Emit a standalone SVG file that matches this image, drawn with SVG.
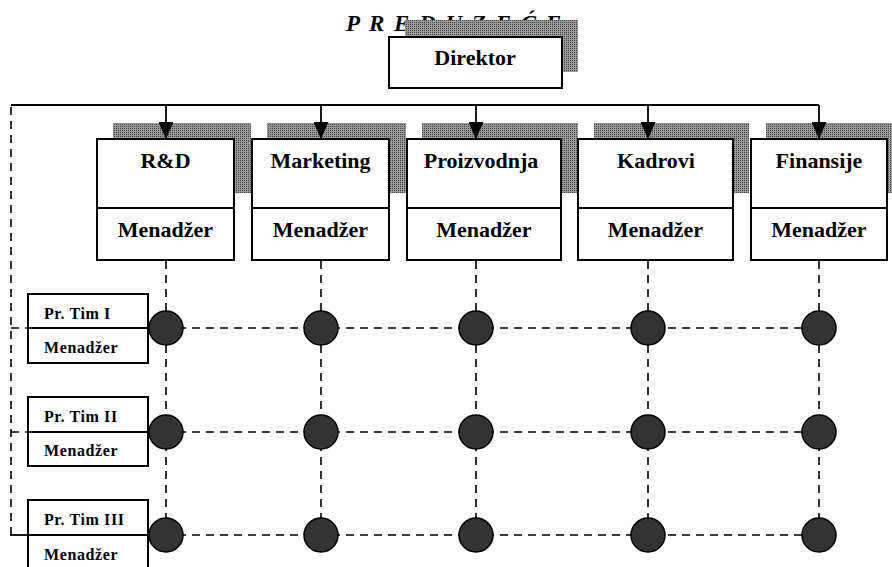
<svg xmlns="http://www.w3.org/2000/svg" width="892" height="567" viewBox="0 0 892 567">
<style>
.box{fill:#fff;stroke:#000;stroke-width:2}
.shadow{fill:url(#stip)}
.t{font-family:"Liberation Serif","Times New Roman",serif;font-weight:bold;fill:#000}
.big{font-size:22px;text-anchor:middle}
.small{font-size:16px;letter-spacing:0.6px}
.solid{stroke:#000;stroke-width:1.8;fill:none}
.dash{stroke:#000;stroke-width:1.6;fill:none;stroke-dasharray:8 6}
.dot{fill:#333;stroke:#000;stroke-width:1.5}
</style>
<defs>
<pattern id="stip" width="2" height="2" patternUnits="userSpaceOnUse">
<rect width="2" height="2" fill="#999"/>
<rect width="1" height="1" fill="#444"/>
</pattern>
<marker id="arr" viewBox="0 0 17 15" refX="17" refY="7.5" markerWidth="17" markerHeight="15" markerUnits="userSpaceOnUse" orient="auto">
<path d="M0,0 L17,7.5 L0,15 Z" fill="#000"/>
</marker>
</defs>
<rect width="892" height="567" fill="#fff"/>

<text class="t" x="346" y="31" font-size="23" font-style="italic" letter-spacing="2">P R E D U Z E Ć E</text>

<g id="direktor">
<rect class="shadow" x="405" y="20" width="173" height="52"/>
<rect class="box" x="389" y="37" width="173" height="51"/>
<text class="t big" x="475" y="65">Direktor</text>
</g>

<g id="rd">
<rect class="shadow" x="113" y="123" width="138" height="70"/>
<rect class="box" x="97" y="139" width="137" height="121"/>
<line class="solid" x1="97" y1="208" x2="234" y2="208" stroke-width="2"/>
<text class="t big" x="165.5" y="168">R&amp;D</text>
<text class="t big" x="165.5" y="237">Menadžer</text>
</g>
<g id="marketing">
<rect class="shadow" x="267" y="123" width="139" height="70"/>
<rect class="box" x="252" y="139" width="137" height="121"/>
<line class="solid" x1="252" y1="208" x2="389" y2="208" stroke-width="2"/>
<text class="t big" x="320.5" y="168">Marketing</text>
<text class="t big" x="320.5" y="237">Menadžer</text>
</g>
<g id="proizvodnja">
<rect class="shadow" x="422" y="123" width="156" height="70"/>
<rect class="box" x="407" y="139" width="154" height="121"/>
<line class="solid" x1="407" y1="208" x2="561" y2="208" stroke-width="2"/>
<text class="t big" x="481" y="168">Proizvodnja</text>
<text class="t big" x="484" y="237">Menadžer</text>
</g>
<g id="kadrovi">
<rect class="shadow" x="594" y="123" width="155" height="70"/>
<rect class="box" x="578" y="139" width="155" height="121"/>
<line class="solid" x1="578" y1="208" x2="733" y2="208" stroke-width="2"/>
<text class="t big" x="656" y="168">Kadrovi</text>
<text class="t big" x="655.5" y="237">Menadžer</text>
</g>
<g id="finansije">
<rect class="shadow" x="766" y="123" width="136" height="70"/>
<rect class="box" x="751" y="139" width="136" height="121"/>
<line class="solid" x1="751" y1="208" x2="887" y2="208" stroke-width="2"/>
<text class="t big" x="819" y="168">Finansije</text>
<text class="t big" x="819" y="237">Menadžer</text>
</g>

<g id="connectors">
<polyline class="solid" points="11,105 819,105"/>
<line class="solid" x1="166" y1="105" x2="166" y2="139" marker-end="url(#arr)"/>
<line class="solid" x1="321" y1="105" x2="321" y2="139" marker-end="url(#arr)"/>
<line class="solid" x1="476" y1="105" x2="476" y2="139" marker-end="url(#arr)"/>
<line class="solid" x1="648" y1="105" x2="648" y2="139" marker-end="url(#arr)"/>
<line class="solid" x1="819" y1="105" x2="819" y2="139" marker-end="url(#arr)"/>
<line class="dash" x1="11" y1="107" x2="11" y2="535"/>
<line class="dash" x1="166" y1="261" x2="166" y2="520"/>
<line class="dash" x1="321" y1="261" x2="321" y2="520"/>
<line class="dash" x1="476" y1="261" x2="476" y2="520"/>
<line class="dash" x1="648" y1="261" x2="648" y2="520"/>
<line class="dash" x1="819" y1="261" x2="819" y2="520"/>
<line class="dash" x1="11" y1="328" x2="28" y2="328"/>
<line class="dash" x1="150" y1="328" x2="819" y2="328"/>
<line class="dash" x1="11" y1="432" x2="28" y2="432"/>
<line class="dash" x1="150" y1="432" x2="819" y2="432"/>
<line class="solid" x1="10" y1="535" x2="28" y2="535"/>
<line class="dash" x1="150" y1="535" x2="819" y2="535"/>
</g>

<g id="tim1">
<rect class="box" x="28" y="294" width="120" height="69"/>
<line class="solid" x1="28" y1="328" x2="148" y2="328" stroke-width="2"/>
<text class="t small" x="44" y="319">Pr. Tim I</text>
<text class="t small" x="44" y="353">Menadžer</text>
</g>
<g id="tim2">
<rect class="box" x="28" y="397" width="120" height="69"/>
<line class="solid" x1="28" y1="432" x2="148" y2="432" stroke-width="2"/>
<text class="t small" x="44" y="422">Pr. Tim II</text>
<text class="t small" x="44" y="456">Menadžer</text>
</g>
<g id="tim3">
<rect class="box" x="28" y="500" width="120" height="72"/>
<line class="solid" x1="28" y1="535" x2="148" y2="535" stroke-width="2"/>
<text class="t small" x="44" y="525">Pr. Tim III</text>
<text class="t small" x="44" y="560">Menadžer</text>
</g>

<g id="nodes">
<circle class="dot" cx="166" cy="328" r="17"/>
<circle class="dot" cx="321" cy="328" r="17"/>
<circle class="dot" cx="476" cy="328" r="17"/>
<circle class="dot" cx="648" cy="328" r="17"/>
<circle class="dot" cx="819" cy="328" r="17"/>
<circle class="dot" cx="166" cy="432" r="17"/>
<circle class="dot" cx="321" cy="432" r="17"/>
<circle class="dot" cx="476" cy="432" r="17"/>
<circle class="dot" cx="648" cy="432" r="17"/>
<circle class="dot" cx="819" cy="432" r="17"/>
<circle class="dot" cx="166" cy="535" r="17"/>
<circle class="dot" cx="321" cy="535" r="17"/>
<circle class="dot" cx="476" cy="535" r="17"/>
<circle class="dot" cx="648" cy="535" r="17"/>
<circle class="dot" cx="819" cy="535" r="17"/>
</g>
</svg>
